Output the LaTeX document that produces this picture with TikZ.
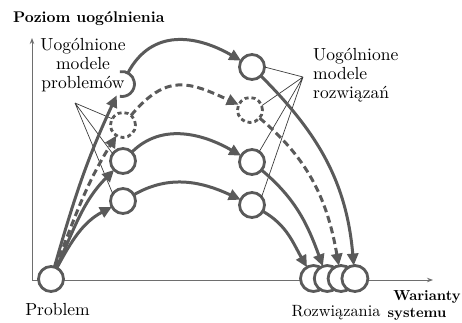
\documentclass[tikz,border=0pt]{standalone}
\usepackage{fontspec}
\setmainfont{lmroman10}[Extension=.otf, UprightFont=*-regular, BoldFont=*-bold]
\usetikzlibrary{arrows.meta}
\definecolor{arr}{RGB}{90,90,90}
\definecolor{thinc}{RGB}{60,60,60}
\definecolor{axc}{RGB}{110,110,110}
\begin{document}
\begin{tikzpicture}[x=1pt,y=-1pt,
  circ/.style={circle, draw=arr, line width=2.8pt, minimum size=25pt, inner sep=0pt, outer sep=0pt, fill=white},
  dcirc/.style={circ, dash pattern=on 4pt off 3pt},
  flow/.style={draw=arr, line width=3pt, -{Triangle[length=12pt,width=11pt]}},
  dflow/.style={flow, dash pattern=on 7pt off 4pt},
  callout/.style={draw=thinc, line width=0.7pt},
  axisline/.style={draw=axc, line width=1pt, -{Stealth[length=6pt,width=4.5pt]}},
  lbl/.style={font=\fontsize{17.5}{19}\selectfont, inner sep=0pt},
  blbl/.style={font=\fontsize{14.5}{19}\selectfont\bfseries, inner sep=0pt}]
\useasboundingbox (0,0) rectangle (462,323);
% axes
\coordinate (O) at (32,280);
\coordinate (Ytip) at (32,38);
\coordinate (Xtip) at (433,280);
\draw[axisline] (O) -- (Ytip);
\draw[axisline] (O) -- (Xtip);
% circles
\node[circ] (P) at (51,279) {};
\node[circ, draw=none, fill=none] (L1) at (122,84) {};
\node[dcirc] (L2) at (123,125) {};
\node[circ] (L3) at (123,161) {};
\node[circ] (L4) at (123,201) {};
\node[circ] (R1) at (252,67) {};
\node[dcirc] (R2) at (250,110) {};
\node[circ] (R3) at (252,162) {};
\node[circ] (R4) at (252,205) {};
\node[circ, minimum size=26pt] (S1) at (313.5,278.5) {};
\node[circ, minimum size=26pt] (S2) at (327.3,278.5) {};
\node[circ, minimum size=26pt] (S3) at (341.1,278.5) {};
\node[circ, minimum size=26pt] (S4) at (354.9,278.5) {};
\draw[draw=arr, line width=2.8pt] (L1.100) arc[start angle=100, end angle=-100, radius=12.5pt];
% callouts
\coordinate (CL) at (75,103);
\coordinate (CR) at (303,77);
\draw[callout] (CL) -- (L2.150) (CL) -- (L3.145) (CL) -- (L4.145);
\draw[callout] (CR) -- (R1.east) (CR) -- (R2.20) (CR) -- (R3.55) (CR) -- (R4.40);
% flows from problem
\draw[flow] (P) to[out=74, in=245] (L1);
\draw[dflow] (P) to[out=69, in=238] (L2);
\draw[flow] (P) to[out=65, in=225] (L3);
\draw[flow] (P) to[out=62, in=208] (L4);
% flows between columns
\draw[flow] (L1) to[out=62, in=150, looseness=1.15] (R1);
\draw[dflow] (L2) to[out=50, in=155, looseness=1.3] (R2);
\draw[flow] (L3) to[out=45, in=150] (R3);
\draw[flow] (L4) to[out=30, in=155] (R4);
% flows to solutions
\draw[flow] (R1) to[out=-45, in=95] (S4);
\draw[dflow] (R2) to[out=-40, in=100] (S3);
\draw[flow] (R3) to[out=-40, in=110] (S2);
\draw[flow] (R4) to[out=-30, in=120] (S1);
% texts
\node[blbl, font=\fontsize{15.5}{19}\selectfont\bfseries, anchor=base west] (title) at (13,23) {Poziom uogólnienia};
\node[lbl, align=center, anchor=north] (lab1) at (83,38) {Uogólnione\\modele\\problemów};
\node[lbl, align=left, anchor=north west] (lab2) at (313,48) {Uogólnione\\modele\\rozwiązań};
\node[lbl, anchor=base] (tp) at (57.5,315) {Problem};
\node[lbl, font=\fontsize{16.3}{19}\selectfont, anchor=base] (tr) at (336,316) {Rozwiązania};
\node[blbl, anchor=base] (tw) at (427,300) {Warianty};
\node[blbl, anchor=base] (ts) at (417,317) {systemu};
\end{tikzpicture}
\end{document}
